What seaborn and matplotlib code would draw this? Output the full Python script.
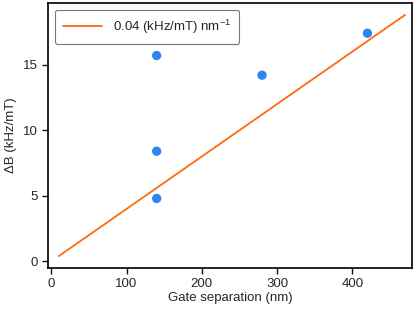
import numpy as np
import pandas as pd
import matplotlib
matplotlib.use("Agg")
import matplotlib.pyplot as plt
import seaborn as sns

# datos
gate_sep = [140, 140, 140, 280, 420]
delta_b = [15.7, 8.4, 4.8, 14.2, 17.4]
fit_slope = 0.04
fit_x = [10, 470]
fit_y = [fit_slope * v for v in fit_x]

points = pd.DataFrame({"gate": gate_sep, "dB": delta_b})
fit = pd.DataFrame({"gate": fit_x, "dB": fit_y})

sns.set_style("ticks")
plt.rcParams["font.family"] = ["Liberation Sans", "DejaVu Sans"]
plt.rcParams["mathtext.fontset"] = "custom"
plt.rcParams["mathtext.rm"] = "Liberation Sans"
plt.rcParams["mathtext.it"] = "Liberation Sans"

fig, ax = plt.subplots(figsize=(4.16, 3.09), dpi=100)
fig.subplots_adjust(left=0.116, right=0.99, top=0.99, bottom=0.133)

sns.lineplot(data=fit, x="gate", y="dB", color="#ff6a10", linewidth=1.3,
             label="0.04 (kHz/mT) nm$^{-1}$", ax=ax)
sns.scatterplot(data=points, x="gate", y="dB", color="#2b87ee", s=45,
                edgecolor="none", ax=ax, legend=False)

ax.set_xlim(-4, 479)
ax.set_ylim(-0.5, 19.7)
ax.set_xticks([0, 100, 200, 300, 400])
ax.set_yticks([0, 5, 10, 15])
ax.set_xlabel("Gate separation (nm)", fontsize=9.5, labelpad=1)
ax.set_ylabel("ΔB (kHz/mT)", fontsize=9.5, labelpad=4)
ax.tick_params(labelsize=9.5, length=4, width=1, color="#111111", direction="out")
for s in ax.spines.values():
    s.set_linewidth(1.3)
    s.set_color("#111111")

leg = ax.legend(loc="upper left", fontsize=9.5, frameon=True, handlelength=3,
                borderpad=0.6, borderaxespad=0.5, fancybox=True)
leg.get_frame().set_edgecolor("#555555")
leg.get_frame().set_linewidth(0.8)

plt.savefig("out.png", dpi=100)
